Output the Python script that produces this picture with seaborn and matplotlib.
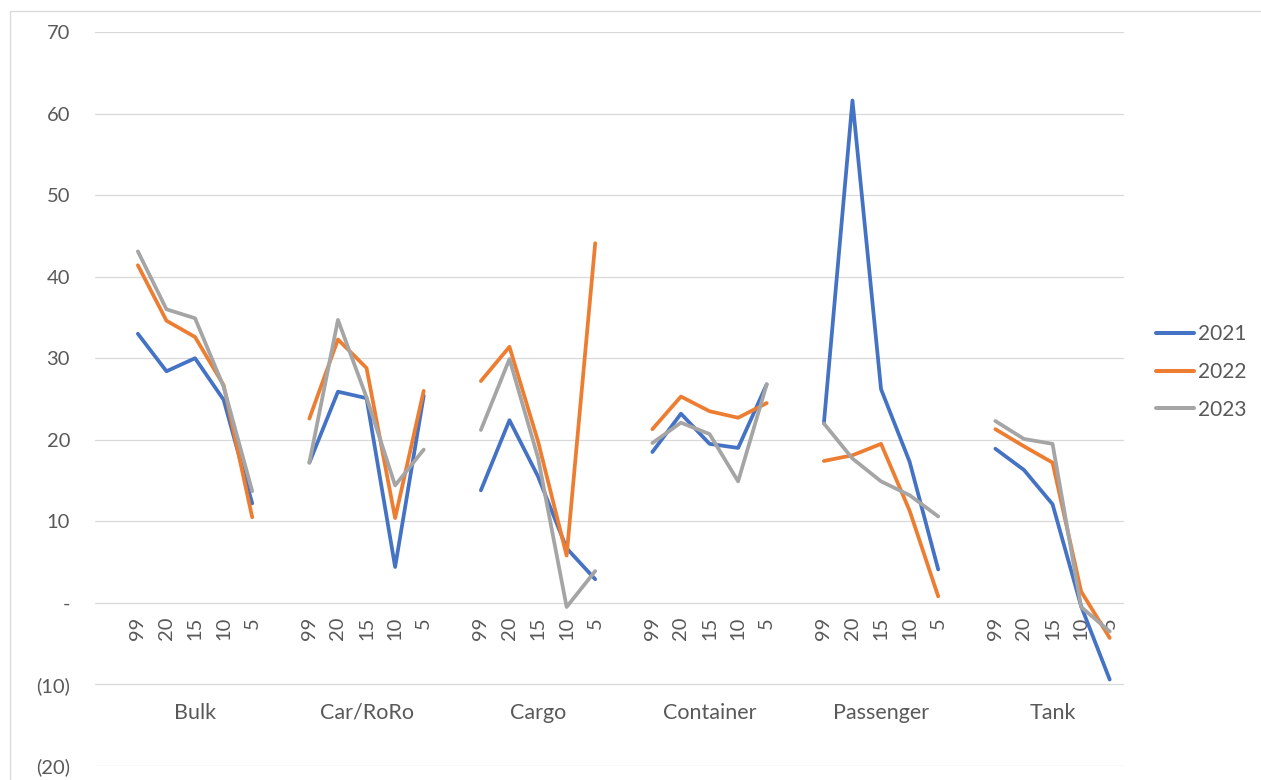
import matplotlib
matplotlib.use("Agg")
import matplotlib.pyplot as plt
from matplotlib.lines import Line2D
from matplotlib.patches import Rectangle
import numpy as np
import pandas as pd
import seaborn as sns

# Ship types and size bands
groups = ["Bulk", "Car/RoRo", "Cargo", "Container", "Passenger", "Tank"]
sizes = ["99", "20", "15", "10", "5"]
years = ["2021", "2022", "2023"]

# Values per year, ordered group by group, size band by size band
y2021 = [33.0, 28.4, 30.0, 24.9, 12.2,
         17.2, 25.9, 25.1, 4.4, 25.4,
         13.8, 22.4, 15.5, 6.7, 2.9,
         18.5, 23.2, 19.5, 19.0, 26.8,
         22.0, 61.6, 26.2, 17.3, 4.1,
         18.9, 16.3, 12.1, -0.4, -9.4]
y2022 = [41.4, 34.6, 32.6, 26.7, 10.5,
         22.6, 32.3, 28.8, 10.4, 26.0,
         27.2, 31.4, 19.8, 5.8, 44.1,
         21.3, 25.3, 23.5, 22.7, 24.5,
         17.4, 18.1, 19.5, 11.3, 0.8,
         21.3, 19.2, 17.2, 1.4, -4.3]
y2023 = [43.1, 36.0, 34.9, 26.5, 13.7,
         17.2, 34.7, 25.2, 14.4, 18.8,
         21.2, 29.9, 17.8, -0.5, 3.9,
         19.6, 22.1, 20.7, 14.9, 26.8,
         22.0, 17.7, 14.9, 13.2, 10.6,
         22.3, 20.1, 19.5, -0.5, -3.5]

y_ticks = [-20, -10, 0, 10, 20, 30, 40, 50, 60, 70]
y_tick_labels = ["(20)", "(10)", "-", "10", "20", "30", "40", "50", "60", "70"]

colors = {"2021": "#4472C4", "2022": "#ED7D31", "2023": "#A5A5A5"}
text_color = "#595959"
grid_color = "#D9D9D9"

# Each group takes six slots on the category axis: one blank, then five size bands
slots_per_group = len(sizes) + 1
rows = []
for year, vals in zip(years, [y2021, y2022, y2023]):
    for gi, g in enumerate(groups):
        for si, s in enumerate(sizes):
            rows.append({
                "pos": gi * slots_per_group + 1 + si,
                "value": vals[gi * len(sizes) + si],
                "year": year,
                "group": g,
            })
df = pd.DataFrame(rows)

sns.set_theme(style="white")
plt.rcParams["font.family"] = ["Lato", "DejaVu Sans"]

W, H, DPI = 1261, 780, 100
fig = plt.figure(figsize=(W / DPI, H / DPI), dpi=DPI)
ax = fig.add_axes([95 / W, 1 - 766 / H, (1124 - 95) / W, (766 - 32) / H])

sns.lineplot(data=df, x="pos", y="value", hue="year", units="group",
             estimator=None, palette=colors, hue_order=years,
             linewidth=2.7, legend=False, ax=ax,
             solid_capstyle="round", solid_joinstyle="round")

n_slots = slots_per_group * len(groups)
ax.set_xlim(-0.5, n_slots - 0.5)
ax.set_ylim(-20, 70)

# Horizontal gridlines
ax.set_yticks(y_ticks, y_tick_labels)
ax.yaxis.grid(True, color=grid_color, linewidth=0.9)
ax.xaxis.grid(False)
ax.set_axisbelow(True)
ax.tick_params(axis="y", length=0, pad=18, labelsize=14.5, labelcolor=text_color)

# Category axis crossing at zero
tick_pos = [gi * slots_per_group + 1 + si for gi in range(len(groups)) for si in range(len(sizes))]
tick_lab = sizes * len(groups)
ax.set_xticks(tick_pos, tick_lab)
ax.spines["bottom"].set_position(("data", 0))
for side in ["top", "right", "left", "bottom"]:
    ax.spines[side].set_visible(False)
ax.tick_params(axis="x", length=0, pad=10, labelsize=14.5, labelcolor=text_color,
               labelrotation=90)
ax.set_xlabel("")
ax.set_ylabel("")

# Group labels
for gi, g in enumerate(groups):
    ax.text(gi * slots_per_group + 3, -13.5, g, ha="center", va="center",
            fontsize=15.5, color=text_color)

# Legend
handles = [Line2D([0], [0], color=colors[y], linewidth=2.9, solid_capstyle="round")
           for y in years]
fig.legend(handles, years, loc="center left", bbox_to_anchor=(1156 / W, 1 - 372 / H),
           frameon=False, fontsize=15, labelcolor=text_color, handlelength=1.8,
           handletextpad=0.2, labelspacing=0.85, borderpad=0, borderaxespad=0)

# Chart area border
fig.patches.append(Rectangle((9.5 / W, -0.5), 2.0, 1.5 - 11 / H, transform=fig.transFigure,
                             fill=False, edgecolor=grid_color, linewidth=0.9))

fig.savefig("out.png", dpi=DPI)
